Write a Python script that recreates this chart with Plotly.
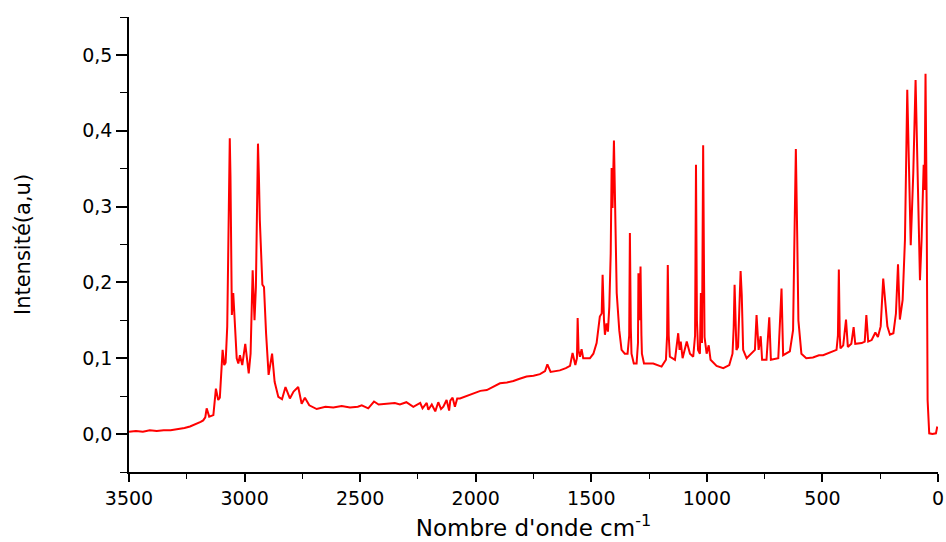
import plotly.graph_objects as go

wavenumber = [
    3500, 3470, 3440, 3410, 3380, 3350, 3320, 3290, 3260, 3236, 3210, 3190, 3179, 3170, 3164, 3158, 3153, 3135,
    3124, 3114, 3107, 3095, 3088, 3082, 3075, 3068, 3064, 3061, 3059, 3055, 3049, 3043, 3034, 3027, 3020, 3010,
    2997, 2982, 2974, 2965, 2957, 2951, 2946, 2942, 2938, 2934, 2923, 2916, 2907, 2896, 2881, 2870, 2854, 2838,
    2823, 2804, 2788, 2768, 2753, 2739, 2720, 2688, 2650, 2616, 2580, 2544, 2510, 2493, 2465, 2440, 2420, 2385,
    2350, 2328, 2300, 2270, 2240, 2230, 2212, 2205, 2190, 2175, 2162, 2150, 2140, 2126, 2115, 2110, 2100, 2090,
    2080, 2068, 2040, 2010, 1980,
    1952, 1925, 1895, 1865, 1837, 1810, 1780, 1750, 1722, 1700, 1690, 1676, 1650, 1636, 1610, 1592, 1581, 1569,
    1562, 1559, 1555, 1549, 1542, 1535, 1506, 1491, 1477, 1463, 1455, 1451, 1445, 1441, 1434, 1428, 1422, 1416,
    1412, 1408, 1402, 1396, 1390, 1379, 1369, 1355, 1343, 1336, 1333, 1329, 1326, 1316, 1304, 1298, 1296, 1291,
    1287, 1283, 1281, 1272, 1232, 1196, 1177, 1172, 1169, 1165, 1160, 1138, 1124, 1118, 1113, 1105, 1087, 1073,
    1059, 1051, 1047, 1043, 1038, 1030, 1026, 1021, 1016, 1012, 1010, 1001, 992, 984, 958, 929, 903, 889,
    884, 880, 876, 872, 865, 854, 849, 843, 828, 792, 785, 776, 767, 761, 742, 730, 723, 691,
    677, 670, 641, 627, 621, 615, 609, 604, 591, 570, 541, 515, 497, 468, 439, 433, 429, 425,
    422, 410, 398, 390, 375, 365, 358, 330, 317, 310, 302, 287, 271, 260, 248, 237, 226, 219,
    208, 193, 182, 173, 165, 153, 143, 133, 118, 107, 97, 88, 78, 71, 64, 62, 58, 54,
    49, 45, 38, 24, 9, 3,
]

intensity = [
    0.003, 0.004, 0.003, 0.005, 0.004, 0.005, 0.005, 0.006, 0.008, 0.010, 0.013, 0.016, 0.018, 0.022, 0.034, 0.028, 0.023, 0.025,
    0.060, 0.045, 0.048, 0.111, 0.091, 0.094, 0.142, 0.300, 0.390, 0.340, 0.282, 0.157, 0.186, 0.150, 0.100, 0.093, 0.104, 0.091,
    0.119, 0.080, 0.106, 0.216, 0.150, 0.194, 0.300, 0.383, 0.340, 0.282, 0.197, 0.194, 0.133, 0.078, 0.106, 0.069, 0.049, 0.046,
    0.062, 0.047, 0.056, 0.062, 0.040, 0.048, 0.038, 0.033, 0.036, 0.035, 0.037, 0.035, 0.036, 0.038, 0.034, 0.043, 0.039, 0.040,
    0.041, 0.039, 0.042, 0.036, 0.041, 0.034, 0.041, 0.032, 0.039, 0.030, 0.042, 0.033, 0.036, 0.045, 0.031, 0.044, 0.048, 0.036,
    0.047, 0.047, 0.050, 0.054, 0.057,
    0.058, 0.062, 0.067, 0.068, 0.070, 0.073, 0.076, 0.077, 0.079, 0.083, 0.092, 0.082, 0.083, 0.084, 0.087, 0.090, 0.107, 0.091,
    0.100, 0.153, 0.110, 0.102, 0.112, 0.100, 0.100, 0.106, 0.120, 0.155, 0.159, 0.210, 0.150, 0.131, 0.146, 0.135, 0.168, 0.238,
    0.351, 0.298, 0.387, 0.296, 0.186, 0.137, 0.111, 0.106, 0.106, 0.130, 0.265, 0.140, 0.106, 0.093, 0.093, 0.120, 0.212, 0.150,
    0.221, 0.130, 0.106, 0.093, 0.093, 0.089, 0.098, 0.130, 0.223, 0.130, 0.102, 0.098, 0.133, 0.111, 0.122, 0.100, 0.122, 0.106,
    0.102, 0.130, 0.355, 0.150, 0.111, 0.106, 0.186, 0.120, 0.381, 0.200, 0.128, 0.106, 0.117, 0.098, 0.090, 0.087, 0.091, 0.106,
    0.140, 0.197, 0.140, 0.111, 0.115, 0.215, 0.183, 0.111, 0.100, 0.111, 0.157, 0.111, 0.129, 0.098, 0.098, 0.154, 0.098, 0.100,
    0.192, 0.104, 0.109, 0.137, 0.260, 0.376, 0.260, 0.150, 0.106, 0.100, 0.101, 0.104, 0.104, 0.107, 0.111, 0.130, 0.217, 0.130,
    0.113, 0.117, 0.151, 0.115, 0.119, 0.141, 0.119, 0.120, 0.122, 0.157, 0.122, 0.124, 0.134, 0.128, 0.142, 0.205, 0.170, 0.142,
    0.131, 0.133, 0.159, 0.224, 0.151, 0.177, 0.256, 0.454, 0.249, 0.344, 0.467, 0.322, 0.203, 0.256, 0.353, 0.355, 0.322, 0.475,
    0.300, 0.045, 0.001, 0.000, 0.001, 0.010,
]

x_tick_vals = [3500, 3000, 2500, 2000, 1500, 1000, 500, 0]
x_tick_text = ["3500", "3000", "2500", "2000", "1500", "1000", "500", "0"]
y_tick_vals = [0.0, 0.1, 0.2, 0.3, 0.4, 0.5]
y_tick_text = ["0,0", "0,1", "0,2", "0,3", "0,4", "0,5"]

fig = go.Figure()
fig.add_trace(go.Scatter(
    x=wavenumber, y=intensity, mode="lines",
    line=dict(color="#ff0000", width=2),
    showlegend=False,
))

font_family = "DejaVu Sans, Liberation Sans, Arial, sans-serif"

fig.update_layout(
    width=946, height=542,
    margin=dict(l=129, r=8, t=17, b=70),
    paper_bgcolor="white", plot_bgcolor="white",
    font=dict(family=font_family, color="black"),
    xaxis=dict(
        range=[3500, 0], autorange=False,
        showgrid=False, zeroline=False,
        showline=True, linecolor="black", linewidth=1.6,
        ticks="outside", ticklen=8, tickwidth=1.6, tickcolor="black",
        tickvals=x_tick_vals, ticktext=x_tick_text,
        tickfont=dict(size=19, family=font_family),
        minor=dict(ticks="outside", ticklen=5, tickwidth=1.4, tickcolor="black", dtick=250, showgrid=False),
        title=dict(text="Nombre d'onde cm<sup>-1</sup>", font=dict(size=23, family=font_family), standoff=12),
        automargin=False,
    ),
    yaxis=dict(
        range=[-0.05, 0.55], autorange=False,
        showgrid=False, zeroline=False,
        showline=True, linecolor="black", linewidth=1.6,
        ticks="outside", ticklen=11, tickwidth=1.6, tickcolor="black",
        tickvals=y_tick_vals, ticktext=y_tick_text,
        tickfont=dict(size=19, family=font_family),
        minor=dict(ticks="outside", ticklen=7, tickwidth=1.4, tickcolor="black", dtick=0.05, tick0=0, showgrid=False),
        title=dict(text="Intensité(a,u)", font=dict(size=21, family=font_family), standoff=46),
        automargin=False,
    ),
)

fig.write_html("out.html")
